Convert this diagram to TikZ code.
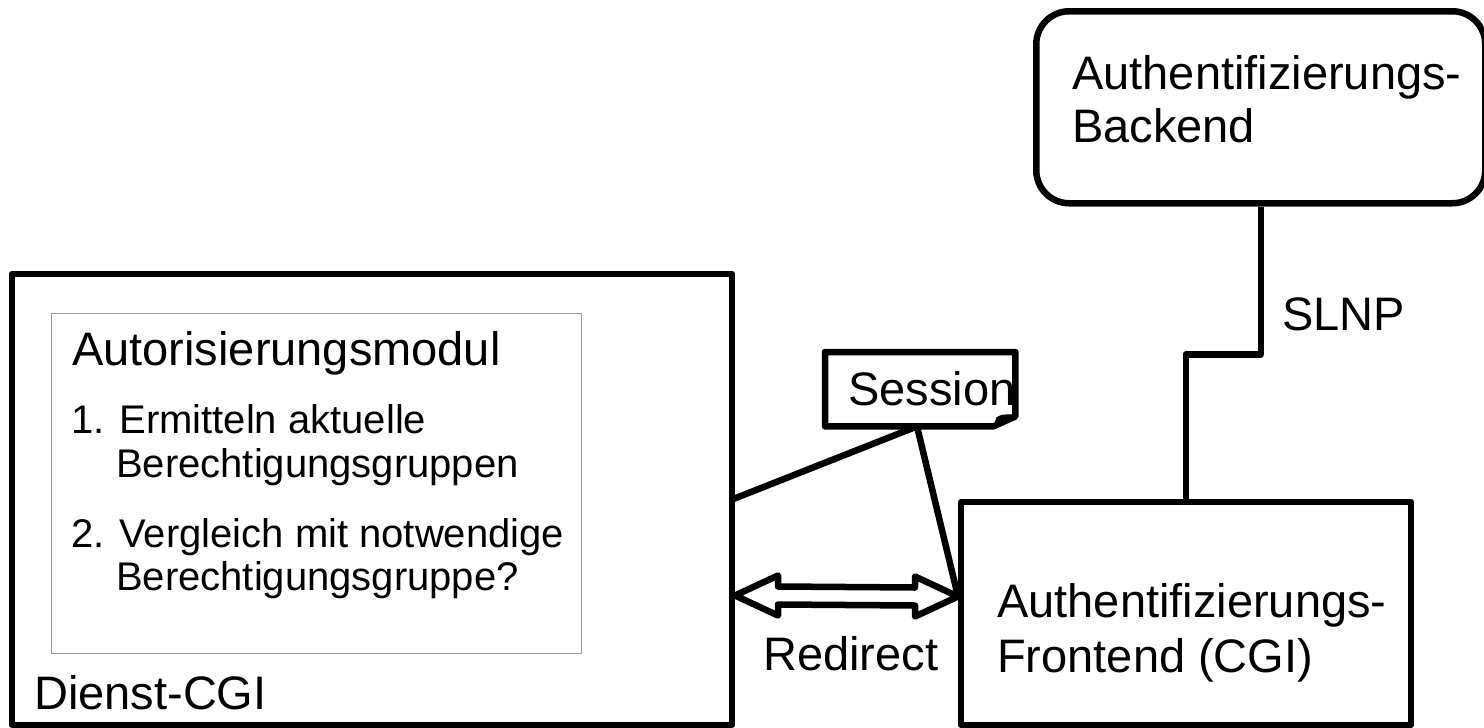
\documentclass[tikz,border=0pt]{standalone}
\usepackage{fontspec}
\setmainfont{Liberation Sans}
\usetikzlibrary{calc}
\begin{document}
\begin{tikzpicture}[x=1pt,y=-1pt,
  thickline/.style={line width=6.5pt, line join=round},
  boxshape/.style={draw, thickline, rectangle, inner sep=0pt, outer sep=0pt, anchor=north west},
  lbl/.style={anchor=base west, inner sep=0pt, font=\fontsize{47}{54}\selectfont},
  item/.style={anchor=base west, inner sep=0pt, font=\fontsize{40}{46}\selectfont}]
\useasboundingbox (0,0) rectangle (1484,728);
% Dienst-CGI
\node[boxshape, minimum width=720pt, minimum height=451pt] (dienst) at (12,274) {};
\node[draw=gray!80, line width=1.3pt, anchor=north west, minimum width=530pt, minimum height=340pt, inner sep=0pt] (modul) at (51,313) {};
\node[lbl] (modt) at (72,365) {Autorisierungsmodul};
\node[item] (i1a) at (71,433) {1. Ermitteln aktuelle};
\node[item] (i1b) at (116,477) {Berechtigungsgruppen};
\node[item] (i2a) at (71,547) {2. Vergleich mit notwendige};
\node[item] (i2b) at (116,590) {Berechtigungsgruppe?};
\node[lbl] (dlab) at (34,709) {Dienst-CGI};
% Backend
\node[draw, thickline, rounded corners=33pt, anchor=north west, minimum width=449pt, minimum height=192pt, inner sep=0pt] (backend) at (1033,8) {};
\node[lbl] (bt1) at (1072,89) {Authentifizierungs-};
\node[lbl] (bt2) at (1072,142) {Backend};
% Frontend
\node[boxshape, minimum width=450pt, minimum height=223pt] (frontend) at (961,502) {};
\node[lbl] (ft1) at (997,617) {Authentifizierungs-};
\node[lbl] (ft2) at (997,672) {Frontend (CGI)};
% SLNP
\coordinate (slnpmid) at ($(backend.south)!0.5!(frontend.north)$);
\draw[thickline] (backend.south) |- (slnpmid) -| (frontend.north);
\node[lbl] (slnp) at (1282,330) {SLNP};
% Session
\node[anchor=north west, minimum width=190pt, minimum height=74pt, inner sep=0pt] (session) at (825,352) {};
\node[lbl] (sesst) at (848,405) {Session};
\draw[thickline] (session.north west) -- (session.north east) -- ($(session.south east)+(0,-10)$) -- ($(session.south east)+(-22,0)$) -- (session.south west) -- cycle;
\fill ($(session.south east)+(-22,0)$) -- ($(session.south east)+(-19,-9)$) .. controls ($(session.south east)+(-14,-12)$) .. ($(session.south east)+(-2,-12)$) -- cycle;
\coordinate (sessbot) at ($(session.south west)+(92,0)$);
\coordinate (redR) at ($(frontend.west)+(-3,-17)$);
\coordinate (redL) at ($(dienst.east)+(3,96)$);
\draw[thickline] (sessbot) -- (dienst.east);
\draw[thickline] (sessbot) -- (redR);
% Redirect arrow
\draw[thickline] (redL) -- ++(43,-20) -- ++(0,11) -- ($(redR)+(-43,-9)$) -- ++(0,-11) -- (redR) -- ++(-43,20) -- ++(0,-11) -- ($(redL)+(43,9)$) -- ++(0,11) -- cycle;
\node[lbl] (redt) at (763,670) {Redirect};
\end{tikzpicture}
\end{document}
